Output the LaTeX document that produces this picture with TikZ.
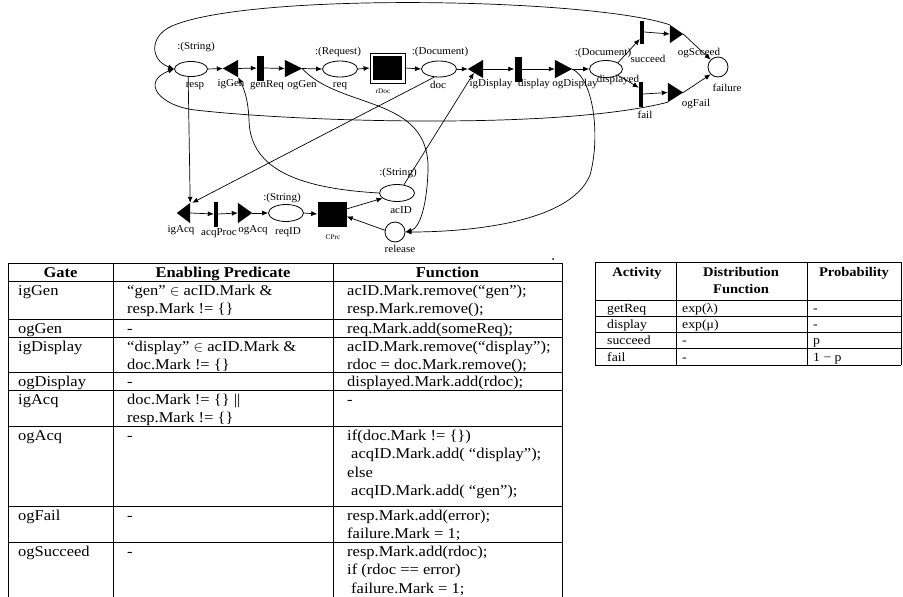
\documentclass[tikz,border=0pt]{standalone}
\usepackage{fontspec}
\usetikzlibrary{shapes.geometric,arrows.meta,calc}
\newfontfamily\tabfont{Liberation Serif}[FakeStretch=1.1]
\newfontfamily\diafont{Liberation Serif}[FakeStretch=1.05]
\newcommand\dgfont{\diafont\fontsize{10.5}{12}\selectfont}
\newcommand\smfont{\diafont\fontsize{7}{8}\selectfont}
\newcommand\tbfont{\tabfont\fontsize{15}{18.5}\selectfont}
\newcommand\rtfont{\tabfont\fontsize{12.5}{16}\selectfont}
\newcommand\rhfont{\tabfont\fontsize{13.2}{17}\selectfont}
\newcommand\mlines[1]{\begin{tabular}[t]{@{}l@{}}#1\end{tabular}}
\newcommand\mlinesc[1]{\begin{tabular}[t]{@{}c@{}}#1\end{tabular}}
\begin{document}
\begin{tikzpicture}[x=1pt,y=-1pt,
  place/.style={draw,ellipse,line width=0.8pt,inner sep=0,minimum width=35pt,minimum height=16pt},
  circ/.style={draw,circle,line width=0.8pt,inner sep=0,minimum size=20pt},
  bar/.style={fill=black,rectangle,inner sep=0},
  gate/.style={rectangle,inner sep=0},
  lbl/.style={inner sep=0,font=\dgfont},
  conn/.style={draw,line width=0.7pt,-{Latex[length=6pt,width=5pt]}},
  tline/.style={line width=0.9pt},
  cell/.style={inner sep=0,font=\tbfont,anchor=base west},
  hcell/.style={inner sep=0,font=\tbfont\bfseries,anchor=base},
  rcell/.style={inner sep=0,font=\rtfont,anchor=base west},
  rhcell/.style={inner sep=0,font=\rhfont\bfseries,anchor=base}]
\useasboundingbox (0,0) rectangle (903,597);
\fill[white] (0,0) rectangle (903,597);

% ---------- places ----------
\node[place,minimum width=33pt,minimum height=15pt] (resp) at (191,69) {};
\node[place] (req) at (340,69) {};
\node[place] (doc) at (439,69) {};
\node[place,minimum width=33pt,minimum height=17pt] (displayed) at (606,69) {};
\node[circ] (failure) at (718,67) {};
\node[place,minimum height=17pt] (acID) at (397,193) {};
\node[place,minimum height=17pt] (reqID) at (286,213) {};
\node[circ] (release) at (395,232) {};

% ---------- activities ----------
\node[bar,minimum width=7pt,minimum height=25pt] (genReq) at (260.5,68) {};
\node[bar,minimum width=7pt,minimum height=25pt] (display) at (518,69) {};
\node[bar,minimum width=4pt,minimum height=23pt] (succeed) at (642,32) {};
\node[bar,minimum width=4pt,minimum height=25pt] (fail) at (641,94) {};
\node[bar,minimum width=4pt,minimum height=25pt] (acqProc) at (216,214) {};
\node[draw,line width=0.8pt,minimum width=35pt,minimum height=30pt,inner sep=0] (rDoc) at (387.5,68) {};
\fill ($(rDoc.north west)+(3,3)$) rectangle ($(rDoc.south east)+(-3,-3)$);
\node[bar,minimum width=29pt,minimum height=25pt] (CPrc) at (332,214) {};

% ---------- gates ----------
\node[gate,minimum width=15pt,minimum height=17pt] (igGen) at (230.5,68.5) {};
\node[gate,minimum width=17pt,minimum height=17pt] (ogGen) at (293.5,68.5) {};
\node[gate,minimum width=15pt,minimum height=18pt] (igDisplay) at (475.5,69) {};
\node[gate,minimum width=17pt,minimum height=18pt] (ogDisplay) at (563.5,69) {};
\node[gate,minimum width=13pt,minimum height=18pt] (ogScceed) at (676.5,34) {};
\node[gate,minimum width=15pt,minimum height=19pt] (ogFail) at (675.5,92.5) {};
\node[gate,minimum width=13pt,minimum height=20pt] (igAcq) at (183.5,213) {};
\node[gate,minimum width=14pt,minimum height=20pt] (ogAcq) at (245,213) {};
\foreach \g in {igGen,igDisplay,igAcq}
  \fill (\g.west) -- (\g.north east) -- (\g.south east) -- cycle;
\foreach \g in {ogGen,ogDisplay,ogScceed,ogFail,ogAcq}
  \fill (\g.east) -- (\g.north west) -- (\g.south west) -- cycle;

% ---------- labels ----------
\node[lbl] (tResp) at (196,47) {:(String)};
\node[lbl] (nResp) at (195,86) {resp};
\node[lbl] (nIgGen) at (231,84) {igGen};
\node[lbl] (nGenReq) at (267,85) {genReq};
\node[lbl] (nOgGen) at (302,85) {ogGen};
\node[lbl] (tReq) at (338,52) {:(Request)};
\node[lbl] (nReq) at (340,86) {req};
\node[lbl,font=\smfont] (nRDoc) at (383,91) {rDoc};
\node[lbl] (tDoc) at (440,52) {:(Document)};
\node[lbl] (nDoc) at (438,85) {doc};
\node[lbl] (nIgDisplay) at (491,84) {igDisplay};
\node[lbl] (nDisplay) at (534,84) {display};
\node[lbl] (nOgDisplay) at (575,84) {ogDisplay};
\node[lbl] (tDisplayed) at (603,53) {:(Document)};
\node[lbl] (nDisplayed) at (618,80) {displayed};
\node[lbl] (nSucceed) at (648,59) {succeed};
\node[lbl] (nOgScceed) at (699,53) {ogScceed};
\node[lbl] (nFailure) at (727,88) {failure};
\node[lbl] (nFail) at (645,115) {fail};
\node[lbl] (nOgFail) at (696,104) {ogFail};
\node[lbl] (tAcID) at (398,173) {:(String)};
\node[lbl] (nAcID) at (401,210) {acID};
\node[lbl] (nRelease) at (400,249) {release};
\node[lbl] (tReqID) at (282,198) {:(String)};
\node[lbl] (nReqID) at (288,232) {reqID};
\node[lbl,font=\smfont] (nCPrc) at (333,237) {CPrc};
\node[lbl] (nIgAcq) at (181,230) {igAcq};
\node[lbl] (nAcqProc) at (219,233) {acqProc};
\node[lbl] (nOgAcq) at (253,230) {ogAcq};

% ---------- connectors: main row ----------
\path[conn] (resp.east) -- (igGen.west);
\path[conn] (igGen.east) -- (genReq.west);
\path[conn] (genReq.east) -- (ogGen.west);
\path[conn] (ogGen.east) -- (req.west);
\path[conn] (req.east) -- (rDoc.west);
\path[conn] (rDoc.east) -- (doc.west);
\path[conn] (doc.east) -- (igDisplay.west);
\path[conn] (igDisplay.east) -- (display.west);
\path[conn] (display.east) -- (ogDisplay.west);
\path[conn] (ogDisplay.east) -- (displayed.west);
\path[conn] (displayed.north east) -- ($(succeed.north west)!0.8!(succeed.south west)$);
\path[conn] (displayed.south east) -- ($(fail.north west)!0.25!(fail.south west)$);
\path[conn] (succeed.east) -- (ogScceed.west);
\path[conn] (fail.east) -- (ogFail.west);
\path[conn] (ogScceed.east) -- (failure.north west);
\path[conn] (ogFail.east) -- (failure.south west);

% ---------- connectors: loops ----------
\path[conn] (ogScceed.north west) .. controls (590,-2) and (250,-8) .. (172,26)
   .. controls (149,36) and (150,60) .. (resp.west);
\path[conn] (ogFail.south west) .. controls (560,130) and (300,122) .. (195,110)
   .. controls (160,106) and (140,82) .. (resp.west);
\path[conn] (ogGen.east) .. controls (340,110) and (430,95) .. (428,170)
   .. controls (427,205) and (420,228) .. (release.east);
\path[conn] (ogDisplay.east) .. controls (595,80) and (600,140) .. (590,175)
   .. controls (570,225) and (460,232) .. (release.east);
\path[conn] (resp.250) -- (igAcq.north east);
\path[conn] (doc.240) -- ($(igAcq.north east)+(2,0)$);
\path[conn] (acID.50) -- ($(igDisplay.west)!0.4!(igDisplay.south east)$);
\path[conn] (acID.west) .. controls (290,188) and (250,165) .. (249,120)
   .. controls (248,95) and (242,85) .. (igGen.south east);

% ---------- connectors: bottom row ----------
\path[conn] (igAcq.east) -- (acqProc.west);
\path[conn] (acqProc.east) -- (ogAcq.west);
\path[conn] (ogAcq.east) -- (reqID.west);
\path[conn] (reqID.east) -- (CPrc.west);
\path[conn] ($(CPrc.north east)!0.3!(CPrc.south east)$) -- (acID.200);
\path[conn] (release.170) -- ($(CPrc.north east)!0.6!(CPrc.south east)$);

\fill (553,259) circle (1);

% ---------- left table ----------
\foreach \y in {263,281,319,337,372,390,426,506,542}
  \draw[tline] (8,\y) -- (562,\y);
\foreach \x in {8,113,333,562}
  \draw[tline] (\x,263) -- (\x,597);
\node[hcell] (h1) at (60.5,277) {Gate};
\node[hcell] (h2) at (223,277) {Enabling Predicate};
\node[hcell] (h3) at (447.5,277) {Function};

\node[cell] (g1) at (18,295) {igGen};
\node[cell] (p1) at (127,295) {\mlines{“gen” $\in$ acID.Mark \&\\resp.Mark != \{\}}};
\node[cell] (f1) at (347,295) {\mlines{acID.Mark.remove(“gen”);\\resp.Mark.remove();}};

\node[cell] (g2) at (18,333) {ogGen};
\node[cell] (p2) at (127,333) {-};
\node[cell] (f2) at (347,333) {req.Mark.add(someReq);};

\node[cell] (g3) at (18,351) {igDisplay};
\node[cell] (p3) at (127,351) {\mlines{“display” $\in$ acID.Mark \&\\doc.Mark != \{\}}};
\node[cell] (f3) at (347,351) {\mlines{acID.Mark.remove(“display”);\\rdoc = doc.Mark.remove();}};

\node[cell] (g4) at (18,386) {ogDisplay};
\node[cell] (p4) at (127,386) {-};
\node[cell] (f4) at (347,386) {displayed.Mark.add(rdoc);};

\node[cell] (g5) at (18,404) {igAcq};
\node[cell] (p5) at (127,404) {\mlines{doc.Mark != \{\} ||\\resp.Mark != \{\}}};
\node[cell] (f5) at (347,404) {-};

\node[cell] (g6) at (18,440) {ogAcq};
\node[cell] (p6) at (127,440) {-};
\node[cell] (f6) at (347,440) {\mlines{if(doc.Mark != \{\})\\\mbox{}\hspace{4pt}acqID.Mark.add( “display”);\\else\\\mbox{}\hspace{4pt}acqID.Mark.add( “gen”);}};

\node[cell] (g7) at (18,520) {ogFail};
\node[cell] (p7) at (127,520) {-};
\node[cell] (f7) at (347,520) {\mlines{resp.Mark.add(error);\\failure.Mark = 1;}};

\node[cell] (g8) at (18,556) {ogSucceed};
\node[cell] (p8) at (127,556) {-};
\node[cell] (f8) at (347,556) {\mlines{resp.Mark.add(rdoc);\\if (rdoc == error)\\\mbox{}\hspace{4pt}failure.Mark = 1;}};

% ---------- right table ----------
\foreach \y in {262,300,316,332,348,365}
  \draw[tline] (595,\y) -- (901,\y);
\foreach \x in {595,676,807,901}
  \draw[tline] (\x,262) -- (\x,365);
\node[rhcell] (rh1) at (637,276) {Activity};
\node[rhcell] (rh2) at (741,276) {\mlinesc{Distribution\\Function}};
\node[rhcell] (rh3) at (854,276) {Probability};

\node[rcell] (a1) at (607,312) {getReq};
\node[rcell] (d1) at (682,312) {exp(λ)};
\node[rcell] (q1) at (813,312) {-};
\node[rcell] (a2) at (607,328) {display};
\node[rcell] (d2) at (682,328) {exp(μ)};
\node[rcell] (q2) at (813,328) {-};
\node[rcell] (a3) at (607,344) {succeed};
\node[rcell] (d3) at (682,344) {-};
\node[rcell] (q3) at (813,344) {p};
\node[rcell] (a4) at (607,361) {fail};
\node[rcell] (d4) at (682,361) {-};
\node[rcell] (q4) at (813,361) {1 − p};
\end{tikzpicture}
\end{document}
